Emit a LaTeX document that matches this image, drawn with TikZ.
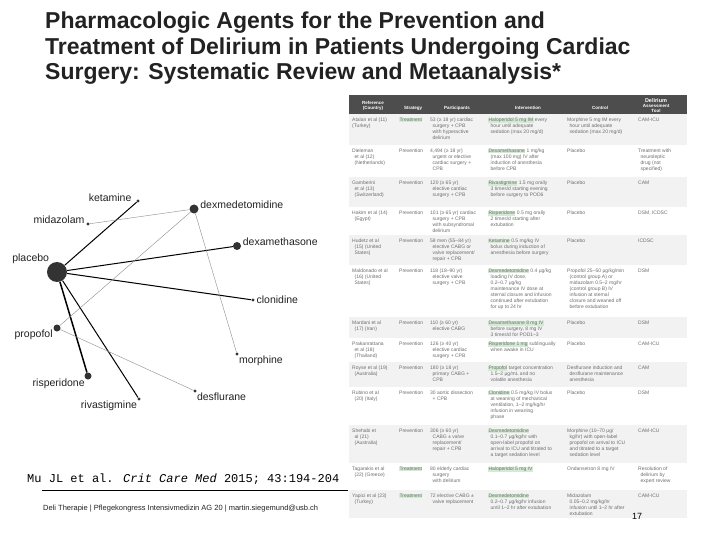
\documentclass[tikz,border=0pt]{standalone}
\usepackage{fontspec}
\setmainfont{Liberation Sans}
\newfontfamily\citefont{Liberation Mono}
\usetikzlibrary{positioning}

\definecolor{titlegray}{HTML}{222222}
\definecolor{nodegray}{HTML}{333333}
\definecolor{edgegray}{HTML}{8C8C8C}
\definecolor{headgray}{HTML}{4D4D4D}
\definecolor{rowgray}{HTML}{F2F2F2}
\definecolor{tabtext}{HTML}{6E6E6E}
\definecolor{hlgreen}{HTML}{D3EBD3}

% highlighted drug name and hanging indent in the table
\newcommand\hl[1]{{\setlength\fboxsep{0.3pt}\colorbox{hlgreen}{#1}}}
\newcommand\ind{\hspace*{2.5pt}}

% one row of the trial table
\newcommand\trial[8]{%
  \node[cell] (#1ref) at (352,#2+3.5) {#3};
  \node[cell] (#1str) at (399,#2+3.5) {#4};
  \node[cell] (#1par) at (430,#2+3.5) {#5};
  \node[cell] (#1int) at (488,#2+3.5) {#6};
  \node[cell] (#1con) at (567,#2+3.5) {#7};
  \node[cell] (#1too) at (638,#2+3.5) {#8};
}

\begin{document}
\begin{tikzpicture}[x=1pt,y=-1pt,
  titletxt/.style={anchor=base west, inner sep=0pt, text=titlegray,
    font=\fontsize{23}{27}\selectfont\bfseries},
  drug/.style={circle, fill=nodegray, inner sep=0pt, minimum size=3.4pt},
  lbl/.style={inner sep=0.5pt, text=titlegray, font=\fontsize{10.5}{12}\selectfont},
  thickedge/.style={black, line width=1pt},
  thinedge/.style={edgegray, line width=0.4pt},
  cell/.style={anchor=north west, inner sep=0pt, align=left, text=tabtext,
    font=\fontsize{5}{6}\selectfont},
  headtxt/.style={inner sep=0pt, align=center, text=white,
    font=\fontsize{4.5}{5}\selectfont\bfseries}]
\useasboundingbox (0,0) rectangle (720,540);
\fill[white] (0,0) rectangle (720,540);

% Title
\node[titletxt] (title1) at (45,29) {Pharmacologic Agents for the Prevention and};
\node[titletxt] (title2) at (45,55) {Treatment of Delirium in Patients Undergoing Cardiac};
\node[titletxt] (title3) at (45,80) {Surgery: Systematic Review and Metaanalysis*};

% Create network nodes
\node[drug, minimum size=20pt] (placebo) at (57,272) {};
\node[drug] (ketamine) at (138,201) {};
\node[drug] (midazolam) at (88,224) {};
\node[drug, minimum size=9pt] (dexmed) at (194,209) {};
\node[drug, minimum size=8pt] (dexameth) at (237,246) {};
\node[drug] (clonidine) at (253,300) {};
\node[drug, minimum size=7pt] (propofol) at (57,328) {};
\node[drug] (morphine) at (237,354) {};
\node[drug, minimum size=7pt] (risperidone) at (88,376) {};
\node[drug] (rivastigmine) at (139,399) {};
\node[drug] (desflurane) at (195,391) {};

% Label network nodes
\node[lbl, left=4pt of ketamine, yshift=3pt] (ketaminelbl) {ketamine};
\node[lbl, left=1pt of midazolam, yshift=4pt] (midazolamlbl) {midazolam};
\node[lbl, right=1pt of dexmed, yshift=4pt] (dexmedlbl) {dexmedetomidine};
\node[lbl, right=1pt of dexameth, yshift=4pt] (dexamethlbl) {dexamethasone};
\node[lbl, above left=0pt and 0pt of placebo.north west] (placebolbl) {placebo};
\node[lbl, right=1pt of clonidine] (clonidinelbl) {clonidine};
\node[lbl, left=0pt of propofol, yshift=-7pt] (propofollbl) {propofol};
\node[lbl, below right=0pt and 0pt of morphine.south east] (morphinelbl) {morphine};
\node[lbl, below left=0pt and 0pt of risperidone.south west] (risperidonelbl) {risperidone};
\node[lbl, below left=0pt and 0pt of rivastigmine.south west] (rivastigminelbl) {rivastigmine};
\node[lbl, below right=0pt and 0pt of desflurane.south east] (desfluranelbl) {desflurane};

% Direct comparisons with placebo
\draw[thickedge] (placebo) -- (ketamine);
\draw[thickedge] (placebo) -- (dexameth);
\draw[thickedge] (placebo) -- (clonidine);
\draw[thickedge, line width=1.5pt] (placebo) -- (risperidone);
\draw[thickedge] (placebo) -- (rivastigmine);

% Active comparisons
\draw[thinedge] (midazolam) -- (dexmed);
\draw[thinedge] (propofol) -- (dexmed);
\draw[thinedge] (dexmed) -- (morphine);
\draw[thinedge] (propofol) -- (desflurane);

% Table background
\fill[headgray] (349,95) rectangle (687,114);
\foreach \top/\bot in {114/145, 177/207, 235/265, 317/338, 362/387, 425/463, 490/518}
  \fill[rowgray] (349,\top) rectangle (687,\bot);

% Table header
\node[headtxt] (hdref) at (373,106) {Reference\\(Country)};
\node[headtxt] (hdstr) at (413,108) {Strategy};
\node[headtxt] (hdpar) at (457,108) {Participants};
\node[headtxt] (hdint) at (528,108) {Intervention};
\node[headtxt] (hdcon) at (600,108) {Control};
\node[headtxt] (hdtoo) at (656,105.5) {{\fontsize{5.5}{6}\selectfont Delirium}\\Assessment\\Tool};

% Table rows
\trial{ata}{114}{Atalan et al (11)\\(Turkey)}{\hl{Treatment}}{53 (≥ 18 yr) cardiac\\\ind surgery + CPB\\\ind with hyperactive\\\ind delirium}{\hl{Haloperidol 5 mg IM} every\\\ind hour until adequate\\\ind sedation (max 20 mg/d)}{Morphine 5 mg IM every\\\ind hour until adequate\\\ind sedation (max 20 mg/d)}{CAM-ICU}
\trial{die}{145}{Dieleman\\\ind et al (12)\\\ind (Netherlands)}{Prevention}{4,494 (≥ 18 yr)\\\ind urgent or elective\\\ind cardiac surgery +\\\ind CPB}{\hl{Dexamethasone} 1 mg/kg\\\ind (max 100 mg) IV after\\\ind induction of anesthesia\\\ind before CPB}{Placebo}{Treatment with\\\ind neuroleptic\\\ind drug (not\\\ind specified)}
\trial{gam}{177}{Gamberini\\\ind et al (13)\\\ind (Switzerland)}{Prevention}{120 (≥ 65 yr)\\\ind elective cardiac\\\ind surgery + CPB}{\hl{Rivastigmine} 1.5 mg orally\\\ind 3 times/d starting evening\\\ind before surgery to POD6}{Placebo}{CAM}
\trial{hak}{207}{Hakim et al (14)\\\ind (Egypt)}{Prevention}{101 (≥ 65 yr) cardiac\\\ind surgery + CPB\\\ind with subsyndromal\\\ind delirium}{\hl{Risperidone} 0.5 mg orally\\\ind 2 times/d starting after\\\ind extubation}{Placebo}{DSM, ICDSC}
\trial{hud}{235}{Hudetz et al\\\ind (15) (United\\\ind States)}{Prevention}{58 men (55–84 yr)\\\ind elective CABG or\\\ind valve replacement/\\\ind repair + CPB}{\hl{Ketamine} 0.5 mg/kg IV\\\ind bolus during induction of\\\ind anesthesia before surgery}{Placebo}{ICDSC}
\trial{mal}{265}{Maldonado et al\\\ind (16) (United\\\ind States)}{Prevention}{118 (18–90 yr)\\\ind elective valve\\\ind surgery + CPB}{\hl{Dexmedetomidine} 0.4 μg/kg\\\ind loading IV dose,\\\ind 0.2–0.7 μg/kg\\\ind maintenance IV dose at\\\ind sternal closure and infusion\\\ind continued after extubation\\\ind for up to 24 hr}{Propofol 25–50 μg/kg/min\\\ind (control group A) or\\\ind midazolam 0.5–2 mg/hr\\\ind (control group B) IV\\\ind infusion at sternal\\\ind closure and weaned off\\\ind before extubation}{DSM}
\trial{mar}{317}{Mardani et al\\\ind (17) (Iran)}{Prevention}{110 (≥ 60 yr)\\\ind elective CABG}{\hl{Dexamethasone 8 mg IV}\\\ind before surgery, 8 mg IV\\\ind 3 times/d for POD1–3}{Placebo}{DSM}
\trial{pra}{338}{Prakanrattana\\\ind et al (18)\\\ind (Thailand)}{Prevention}{126 (≥ 40 yr)\\\ind elective cardiac\\\ind surgery + CPB}{\hl{Risperidone 1 mg} sublingually\\\ind when awake in ICU}{Placebo}{CAM-ICU}
\trial{roy}{362}{Royse et al (19)\\\ind (Australia)}{Prevention}{180 (≥ 18 yr)\\\ind primary CABG +\\\ind CPB}{\hl{Propofol} target concentration\\\ind 1.5–2 μg/mL and no\\\ind volatile anesthesia}{Desflurane induction and\\\ind desflurane maintenance\\\ind anesthesia}{CAM}
\trial{rub}{387}{Rubino et al\\\ind (20) (Italy)}{Prevention}{30 aortic dissection\\\ind + CPB}{\hl{Clonidine} 0.5 mg/kg IV bolus\\\ind at weaning of mechanical\\\ind ventilation, 1–2 mg/kg/hr\\\ind infusion in weaning\\\ind phase}{Placebo}{DSM}
\trial{she}{425}{Shehabi et\\\ind al (21)\\\ind (Australia)}{Prevention}{306 (≥ 60 yr)\\\ind CABG ± valve\\\ind replacement/\\\ind repair + CPB}{\hl{Dexmedetomidine}\\\ind 0.1–0.7 μg/kg/hr with\\\ind open-label propofol on\\\ind arrival to ICU and titrated to\\\ind a target sedation level}{Morphine (10–70 μg/\\\ind kg/hr) with open-label\\\ind propofol on arrival to ICU\\\ind and titrated to a target\\\ind sedation level}{CAM-ICU}
\trial{tag}{463}{Tagarakis et al\\\ind (22) (Greece)}{\hl{Treatment}}{80 elderly cardiac\\\ind surgery\\\ind with delirium}{\hl{Haloperidol 5 mg IV}}{Ondansetron 8 mg IV}{Resolution of\\\ind delirium by\\\ind expert review}
\trial{yap}{490}{Yapici et al (23)\\\ind (Turkey)}{\hl{Treatment}}{72 elective CABG ±\\\ind valve replacement}{\hl{Dexmedetomidine}\\\ind 0.2–0.7 μg/kg/hr infusion\\\ind until 1–2 hr after extubation}{Midazolam\\\ind 0.05–0.2 mg/kg/hr\\\ind infusion until 1–2 hr after\\\ind extubation}{CAM-ICU}

% Citation and footer
\node[anchor=base west, inner sep=0pt, font=\citefont\fontsize{12}{12}\selectfont] (cite) at (27,482)
  {Mu JL et al. \textit{Crit Care Med} 2015; 43:194-204};
\coordinate (ruleL) at (42,490);
\coordinate (ruleR) at (348,490);
\draw[line width=0.8pt] (ruleL) -- (ruleR);
\node[anchor=base west, inner sep=0pt, text=titlegray, font=\fontsize{7.5}{8}\selectfont] (footer) at (43,510)
  {Deli Therapie | Pflegekongress Intensivmedizin AG 20 | martin.siegemund@usb.ch};
\node[anchor=base, inner sep=0pt, font=\fontsize{9}{9}\selectfont] (pageno) at (637,519) {17};

\end{tikzpicture}
\end{document}
